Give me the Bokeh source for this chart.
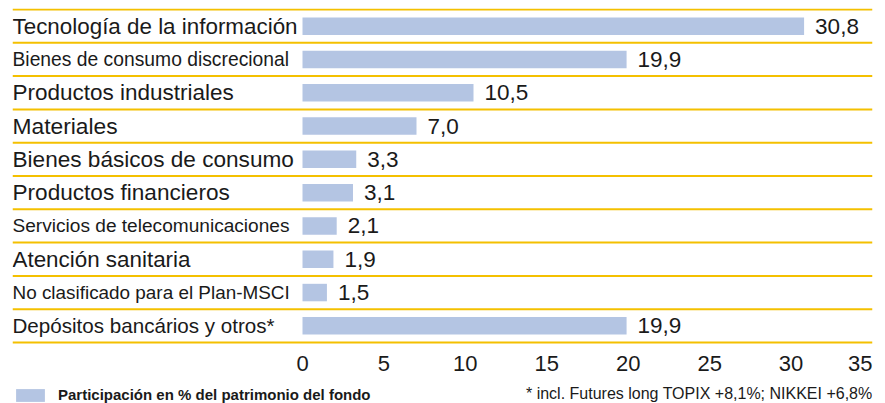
from bokeh.plotting import figure
from bokeh.models import Range1d, ColumnDataSource, Legend, LegendItem, Label
from bokeh.core.properties import value, field
from bokeh.embed import file_html
from bokeh.resources import INLINE

# ---------------- data ----------------
CATEGORIES = [
    "Tecnología de la información",
    "Bienes de consumo discrecional",
    "Productos industriales",
    "Materiales",
    "Bienes básicos de consumo",
    "Productos financieros",
    "Servicios de telecomunicaciones",
    "Atención sanitaria",
    "No clasificado para el Plan-MSCI",
    "Depósitos bancários y otros*",
]
VALUES = [30.8, 19.9, 10.5, 7.0, 3.3, 3.1, 2.1, 1.9, 1.5, 19.9]
TICKS = [0, 5, 10, 15, 20, 25, 30, 35]
TICK_LABELS = ["0", "5", "10", "15", "20", "25", "30", "35"]
LEGEND_LABEL = "Participación en % del patrimonio del fondo"
FOOTNOTE = "* incl. Futures long TOPIX +8,1%; NIKKEI +6,8%"

# ---------------- styles ----------------
FONT = "Liberation Sans"
TEXT_COLOR = "#1a1a1a"
BAR_COLOR = "#b4c5e3"
RULE_COLOR = "#f4c000"
LABEL_SIZES = ["22.4px", "19.3px", "22.5px", "22.8px", "22.6px", "22.6px",
               "19.1px", "22.4px", "18.9px", "20.6px"]
TICK_ALIGNS = ["center"] * (len(TICKS) - 1) + ["right"]

W, H = 885, 403
ROW_PX = 33.3
X_MAX = 35
X_MIN = -X_MAX * 290 / 570  # label area to the left of zero
n = len(CATEGORIES)
rows = list(range(n))

src = ColumnDataSource(dict(
    y=rows,
    value=VALUES,
    label=CATEGORIES,
    size=LABEL_SIZES,
    vlabel=[f"{v:.1f}".replace(".", ",") for v in VALUES],
))
tick_src = ColumnDataSource(dict(
    x=TICKS, text=TICK_LABELS, align=TICK_ALIGNS,
))

y_top = -0.5 - 1 / ROW_PX
y_bottom = y_top + (H - 8) / ROW_PX

p = figure(
    width=W, height=H,
    x_range=Range1d(X_MIN, X_MAX),
    y_range=Range1d(y_bottom, y_top),
    output_backend="svg", toolbar_location=None,
    x_axis_location=None, y_axis_location=None,
    min_border_left=12, min_border_right=13, min_border_top=8, min_border_bottom=0,
)
p.outline_line_color = None
p.xgrid.visible = False
p.ygrid.visible = False
p.background_fill_color = "white"
p.border_fill_color = "white"

# horizontal rules between rows
bounds = [i - 0.5 for i in range(n + 1)]
p.segment(x0=X_MIN, x1=X_MAX, y0=bounds, y1=bounds, line_color=RULE_COLOR, line_width=2)

bars = p.hbar(y="y", left=0, right="value", height=0.525, source=src,
              fill_color=BAR_COLOR, line_color=None)

# category labels
p.text(x=X_MIN, y="y", text="label", source=src,
       text_font=value(FONT), text_font_size=field("size"),
       text_color=TEXT_COLOR, text_align="left", text_baseline="middle")

# value labels
p.text(x="value", y="y", text="vlabel", source=src, x_offset=11,
       text_font=value(FONT), text_font_size="22.5px",
       text_color=TEXT_COLOR, text_align="left", text_baseline="middle")

# x tick labels (scale positions from TICKS)
tick_y = n - 0.5 + 21 / ROW_PX
p.text(x="x", y=tick_y, text="text", source=tick_src,
       text_font=value(FONT), text_font_size="22px",
       text_color=TEXT_COLOR, text_align=field("align"), text_baseline="middle")

legend = Legend(
    items=[LegendItem(label=LEGEND_LABEL, renderers=[bars])],
    location=(0, 0), orientation="horizontal",
    border_line_color=None, background_fill_alpha=0,
    padding=0, margin=0, spacing=0,
    glyph_width=36, glyph_height=16, label_height=16, label_standoff=10,
    label_text_font=FONT, label_text_font_size="15px",
    label_text_font_style="bold", label_text_color=TEXT_COLOR,
)
p.add_layout(legend)

p.add_layout(Label(x=X_MAX, y=n - 0.5 + 51 / ROW_PX, text=FOOTNOTE,
                   text_align="right", text_baseline="alphabetic",
                   text_font=FONT, text_font_size="16px", text_color=TEXT_COLOR))

open("out.html", "w").write(file_html(p, INLINE))
